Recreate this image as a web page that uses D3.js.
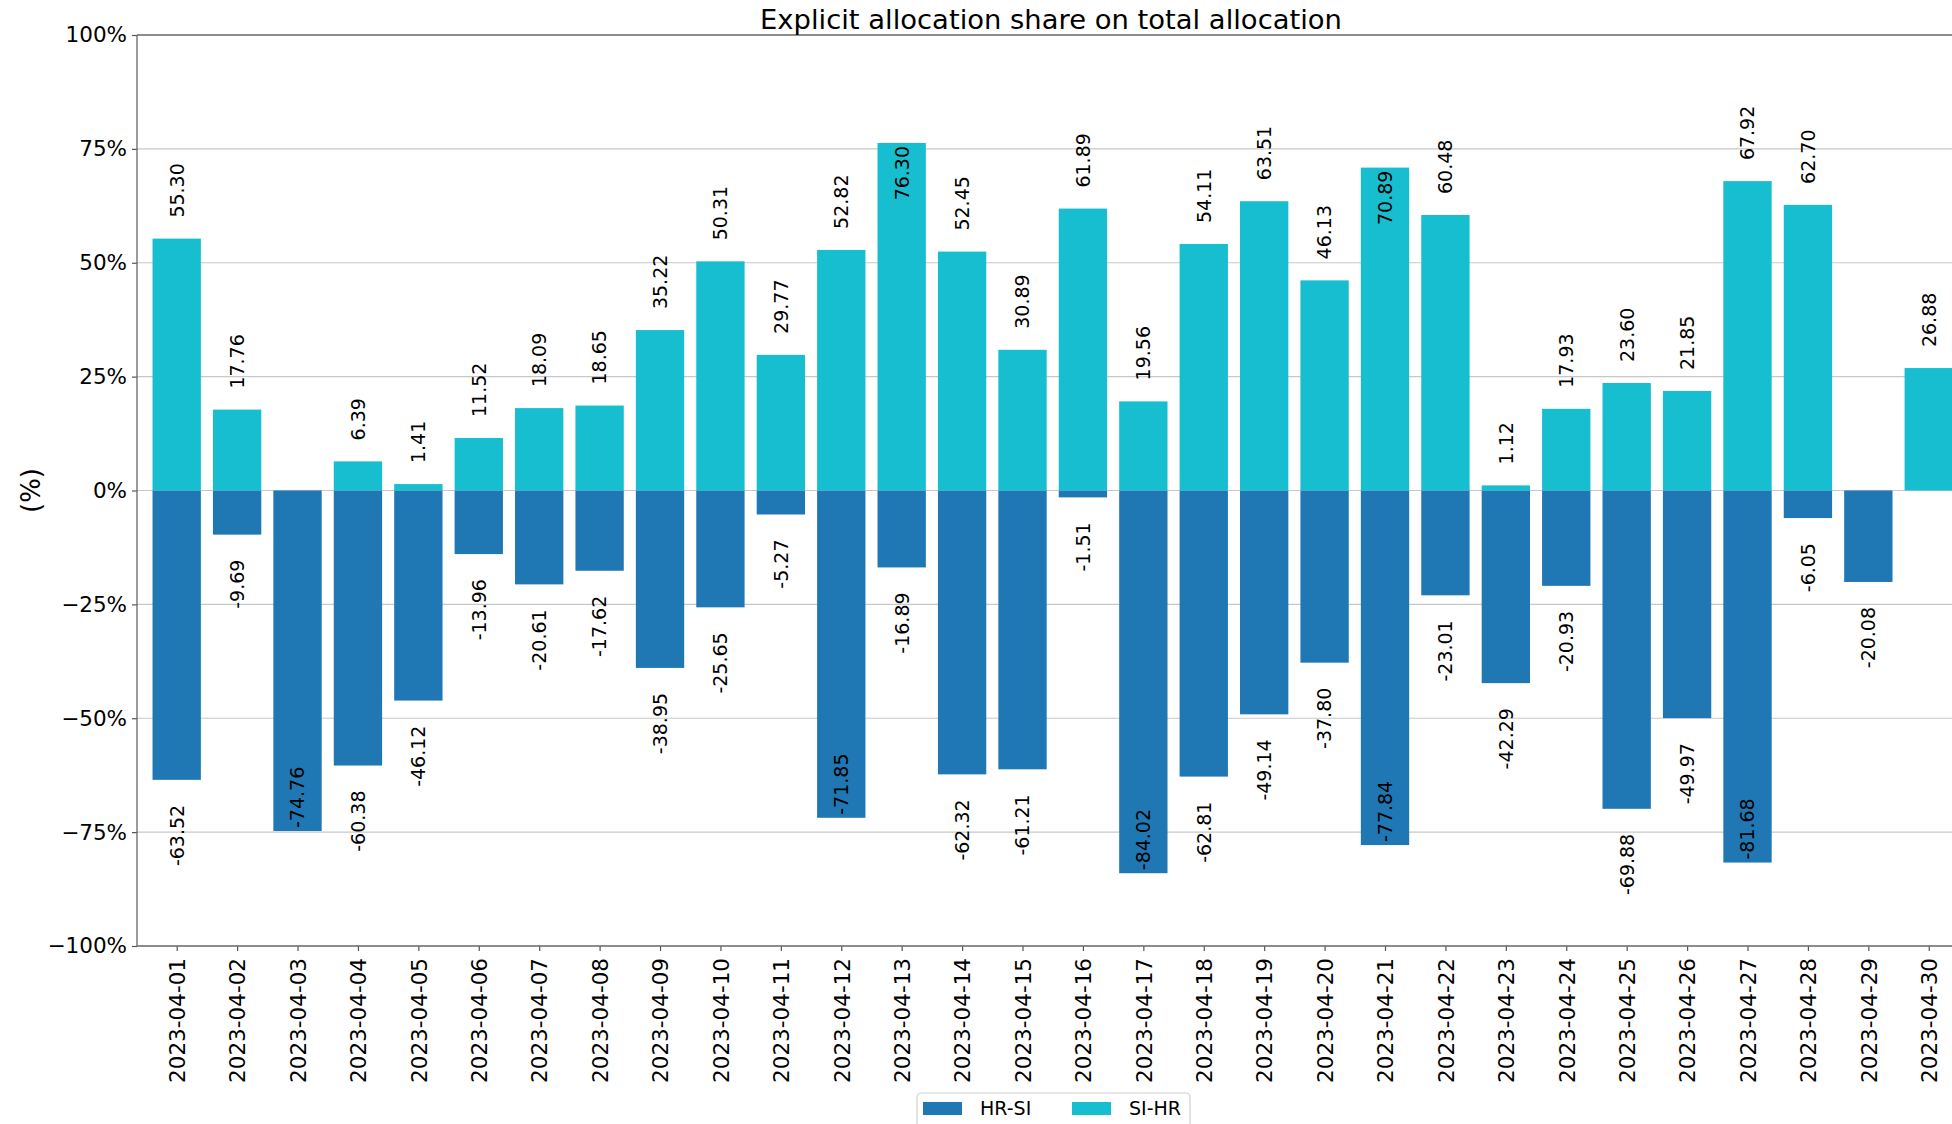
<!DOCTYPE html>
<html>
<head>
<meta charset="utf-8">
<script src="https://cdn.jsdelivr.net/npm/d3@7"></script>
<style>
  html, body { margin: 0; padding: 0; background: #fff; overflow: hidden; }
  svg { display: block; font-family: "DejaVu Sans", sans-serif; }
</style>
</head>
<body>
<svg id="chart" width="1952" height="1124"></svg>
<script>
const dates = ["2023-04-01","2023-04-02","2023-04-03","2023-04-04","2023-04-05","2023-04-06","2023-04-07","2023-04-08","2023-04-09","2023-04-10",
  "2023-04-11","2023-04-12","2023-04-13","2023-04-14","2023-04-15","2023-04-16","2023-04-17","2023-04-18","2023-04-19","2023-04-20",
  "2023-04-21","2023-04-22","2023-04-23","2023-04-24","2023-04-25","2023-04-26","2023-04-27","2023-04-28","2023-04-29","2023-04-30"];
const hrSi = [-63.52,-9.69,-74.76,-60.38,-46.12,-13.96,-20.61,-17.62,-38.95,-25.65,
  -5.27,-71.85,-16.89,-62.32,-61.21,-1.51,-84.02,-62.81,-49.14,-37.80,
  -77.84,-23.01,-42.29,-20.93,-69.88,-49.97,-81.68,-6.05,-20.08,null];
const siHr = [55.30,17.76,null,6.39,1.41,11.52,18.09,18.65,35.22,50.31,
  29.77,52.82,76.30,52.45,30.89,61.89,19.56,54.11,63.51,46.13,
  70.89,60.48,1.12,17.93,23.60,21.85,67.92,62.70,null,26.88];
const yTicks = [-100,-75,-50,-25,0,25,50,75,100];
const seriesNames = ["HR-SI","SI-HR"];
const colors = ["#1f77b4","#17becf"];
const titleText = "Explicit allocation share on total allocation";
const yLabel = "(%)";

const svg = d3.select("#chart");
const L = 137, R = 1965, T = 35, B = 946;
const x = d3.scaleLinear().domain([-0.657, 29.6]).range([L, R]);
const y = d3.scaleLinear().domain([-100, 100]).range([B, T]);
const bw = 0.8 * (x(1) - x(0));
const fmt = v => (v < 0 ? "\u2212" : "") + Math.abs(v) + "%";

// grid
svg.append("g").selectAll("line").data(yTicks.filter(t => Math.abs(t) < 100)).join("line")
  .attr("x1", L).attr("x2", R).attr("y1", d => y(d)).attr("y2", d => y(d))
  .attr("stroke", "#c8c8c8").attr("stroke-width", 1.2);

// bars
const series = [hrSi, siHr];
series.forEach((vals, si) => {
  svg.append("g").selectAll("rect").data(vals.map((v, i) => ({v, i})).filter(d => d.v !== null)).join("rect")
    .attr("x", d => x(d.i) - bw / 2)
    .attr("width", bw)
    .attr("y", d => Math.min(y(d.v), y(0)))
    .attr("height", d => Math.abs(y(d.v) - y(0)))
    .attr("fill", colors[si]);
});

// value labels
const labels = [];
series.forEach(vals => vals.forEach((v, i) => { if (v !== null) labels.push({v, i}); }));
svg.append("g").selectAll("text").data(labels).join("text")
  .attr("transform", d => {
    let yy, inside = Math.abs(d.v) > 70;
    if (d.v >= 0) yy = inside ? y(d.v) + 3 : y(d.v) - 21;
    else yy = inside ? y(d.v) - 3 : y(d.v) + 25;
    return `translate(${x(d.i)},${yy}) rotate(-90)`;
  })
  .attr("text-anchor", d => {
    const inside = Math.abs(d.v) > 70;
    if (d.v >= 0) return inside ? "end" : "start";
    return inside ? "start" : "end";
  })
  .attr("dy", "0.36em")
  .attr("font-size", 19)
  .attr("fill", "#000")
  .text(d => d.v.toFixed(2));

// axes
const yAxis = d3.axisLeft(y).tickValues(yTicks).tickFormat(fmt).tickSize(5).tickPadding(5);
const gy = svg.append("g").attr("transform", `translate(${L},0)`).call(yAxis);
gy.select(".domain").remove();
gy.selectAll(".tick line").attr("stroke", "#555").attr("stroke-width", 1.2);
gy.selectAll(".tick text").attr("font-size", 21.5).attr("font-family", "DejaVu Sans").attr("fill", "#000");

const xAxis = d3.axisBottom(x).tickValues(d3.range(dates.length)).tickFormat(i => dates[i]).tickSize(5).tickPadding(0);
const gx = svg.append("g").attr("transform", `translate(0,${B})`).call(xAxis);
gx.select(".domain").remove();
gx.selectAll(".tick line").attr("stroke", "#555").attr("stroke-width", 1.2);
gx.selectAll(".tick text")
  .attr("font-size", 21.5).attr("font-family", "DejaVu Sans").attr("fill", "#000")
  .attr("text-anchor", "end")
  .attr("transform", "translate(0,12) rotate(-90)")
  .attr("x", 0).attr("y", 0).attr("dy", "0.36em");

// spines
const spine = svg.append("g").attr("stroke", "#666").attr("stroke-width", 1.3).attr("fill", "none");
spine.append("line").attr("x1", L).attr("x2", R).attr("y1", T).attr("y2", T);
spine.append("line").attr("x1", L).attr("x2", R).attr("y1", B).attr("y2", B);
spine.append("line").attr("x1", L).attr("x2", L).attr("y1", T).attr("y2", B);
spine.append("line").attr("x1", R).attr("x2", R).attr("y1", T).attr("y2", B);

// title
svg.append("text").attr("x", (L + R) / 2).attr("y", 29).attr("text-anchor", "middle")
  .attr("font-size", 27.4).attr("fill", "#000").text(titleText);

// y label
svg.append("text").attr("transform", `translate(40,${(T + B) / 2}) rotate(-90)`)
  .attr("text-anchor", "middle").attr("font-size", 26).attr("fill", "#000").text(yLabel);

// legend
const lg = svg.append("g");
lg.append("rect").attr("x", 917).attr("y", 1093).attr("width", 273).attr("height", 50)
  .attr("rx", 4).attr("fill", "#fff").attr("stroke", "#d0d0d0").attr("stroke-width", 1.2);
const legX = [923, 1072];
seriesNames.forEach((n, k) => {
  lg.append("rect").attr("x", legX[k]).attr("y", 1102).attr("width", 39).attr("height", 13).attr("fill", colors[k]);
  lg.append("text").attr("x", legX[k] + 57).attr("y", 1115).attr("font-size", 19).attr("fill", "#000").text(n);
});
</script>
</body>
</html>
